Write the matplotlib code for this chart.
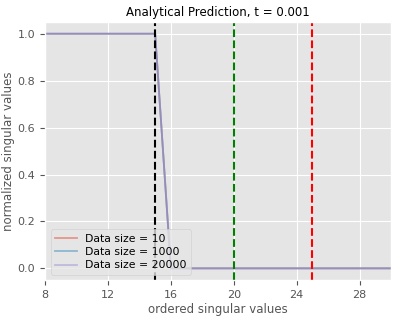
import numpy as np
import matplotlib
matplotlib.use("Agg")
import matplotlib.pyplot as plt

plt.style.use("ggplot")

# singular value index and normalized values (same for each data size)
idx = np.arange(1, 51)
vals_10 = [1.0] * 15 + [0.0] * 35
vals_1000 = [1.0] * 15 + [0.0] * 35
vals_20000 = [1.0] * 15 + [0.0] * 35
labels = ["Data size = 10", "Data size = 1000", "Data size = 20000"]
vlines = [15, 20, 25]
vcolors = ["black", "green", "red"]

fig = plt.figure(figsize=(3.99, 3.19), dpi=100)
ax = fig.add_axes([0.113, 0.122, 0.867, 0.809])

for v, lab in zip([vals_10, vals_1000, vals_20000], labels):
    ax.plot(idx, v, alpha=0.5, lw=1.3, label=lab)

for x, c in zip(vlines, vcolors):
    ax.axvline(x, color=c, ls="--", lw=1.5)

ax.set_xlim(8, 30)
ax.set_ylim(-0.05, 1.05)
ax.set_xticks([8, 12, 16, 20, 24, 28])
ax.set_yticks([0.0, 0.2, 0.4, 0.6, 0.8, 1.0])
ax.tick_params(labelsize=8)
ax.set_title("Analytical Prediction, t = 0.001", fontsize=8.5, pad=4)
ax.set_xlabel("ordered singular values", fontsize=8.5, labelpad=2)
ax.set_ylabel("normalized singular values", fontsize=8.5, labelpad=2)
ax.legend(loc="lower left", fontsize=7.8, borderpad=0.4, labelspacing=0.3,
          handlelength=2.0)

fig.savefig("out.png", dpi=100)
